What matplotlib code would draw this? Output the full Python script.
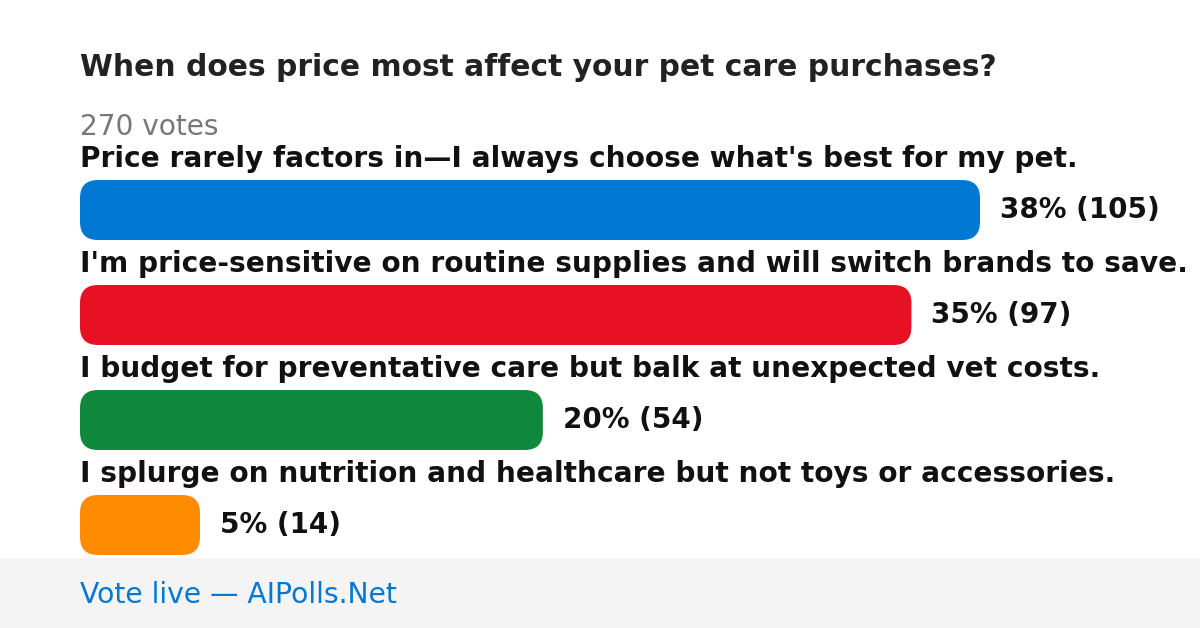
import matplotlib
matplotlib.use("Agg")
import matplotlib.pyplot as plt
from matplotlib.patches import FancyBboxPatch, Rectangle

plt.rcParams["font.family"] = ["DejaVu Sans"]

title = "When does price most affect your pet care purchases?"
total_votes = 270
options = [
    "Price rarely factors in\u2014I always choose what's best for my pet.",
    "I'm price-sensitive on routine supplies and will switch brands to save.",
    "I budget for preventative care but balk at unexpected vet costs.",
    "I splurge on nutrition and healthcare but not toys or accessories.",
]
votes = [105, 97, 54, 14]
percents = [38, 35, 20, 5]
colors = ["#0078D4", "#E81123", "#10893E", "#FF8C00"]
footer = "Vote live \u2014 AIPolls.Net"

W, H = 1200, 628
fig = plt.figure(figsize=(W / 100, H / 100), dpi=100)
ax = fig.add_axes([0, 0, 1, 1])
ax.set_xlim(0, W)
ax.set_ylim(H, 0)
ax.axis("off")

left = 80
max_w = 900
bar_h = 60

ax.text(left, 68, title, fontsize=21.4, fontweight="bold", color="#222222", va="center")
ax.text(left, 127, f"{total_votes} votes", fontsize=20.2, color="#777777", va="center")

for i, (label, v, p, c) in enumerate(zip(options, votes, percents, colors)):
    top = 180 + i * 105
    w = v / max(votes) * max_w
    ax.text(left, top - 21, label, fontsize=20.2, fontweight="bold", color="#111111", va="center")
    ax.add_patch(FancyBboxPatch((left, top), w, bar_h,
                                boxstyle="round,pad=0,rounding_size=18",
                                facecolor=c, edgecolor="none"))
    ax.text(left + w + 20, top + bar_h / 2, f"{p}% ({v})", fontsize=20,
            fontweight="bold", color="#111111", va="center")

ax.add_patch(Rectangle((0, 558), W, H - 558, facecolor="#F4F4F4", edgecolor="none"))
ax.text(left, 595, footer, fontsize=20.3, color="#0078D4", va="center")

fig.savefig("out.png", dpi=100, facecolor="white")
